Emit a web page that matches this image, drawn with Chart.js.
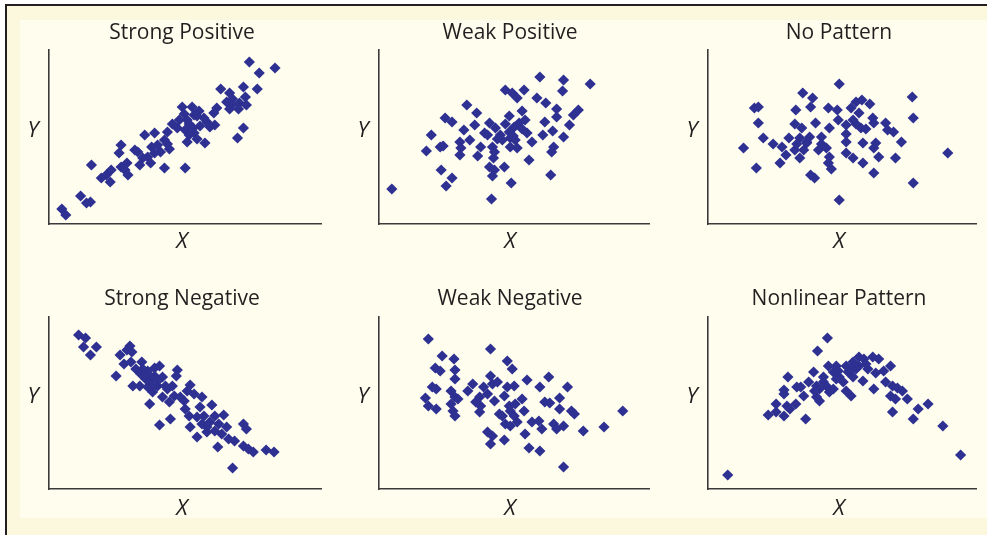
<!DOCTYPE html>
<html><head><meta charset="utf-8">
<script src="https://cdn.jsdelivr.net/npm/chart.js@4.4.0/dist/chart.umd.min.js"></script>
<style>
html,body{margin:0;padding:0;background:#fff;width:987px;height:535px;overflow:hidden;}
#frame{position:absolute;left:5px;top:4px;width:982px;height:531px;border-left:2px solid #231f20;border-top:2px solid #231f20;background:#fcf8dd;box-sizing:border-box;}
#inner{position:absolute;left:20px;top:20px;width:967px;height:498px;background:#fffdee;}
canvas{position:absolute;}
</style></head><body>
<div id="frame"></div><div id="inner"></div>
<canvas id="c1"></canvas><canvas id="c2"></canvas><canvas id="c3"></canvas>
<canvas id="c4"></canvas><canvas id="c5"></canvas><canvas id="c6"></canvas>
<script>
// ---- data (x,y in axis units) ----
const strongPosX = [203,229,213,174,197,211,183,199,180,185,193,200,192,183,170,167,135,145,152,137,147,140,132,157,160,168,163,197,191,130,138,142,147,150,140,158,120,107,97,117,110,122,113,107,100,103,90,87,95,92,117,138,73,71,79,73,77,80,63,58,62,53,43,32,42,38,13,17,125,142,153,104,186,150,120,146];
const strongPosY = [162,156,151,135,137,135,131,127,122,119,121,119,115,115,116,111,117,117,113,110,109,104,104,106,102,99,97,96,86,96,94,89,91,85,82,81,92,91,89,84,79,75,72,71,67,61,72,74,66,59,56,56,79,71,61,57,54,49,54,49,42,46,59,28,22,21,15,9,100,100,98,77,125,108,80,96];

const weakPosX = [163,187,214,186,128,147,135,140,160,169,89,99,145,180,202,197,180,67,74,132,148,168,193,112,118,137,142,97,86,107,110,123,132,150,176,53,125,133,138,155,166,187,82,92,62,65,48,83,103,115,117,133,140,177,175,82,100,116,152,112,127,117,115,63,74,134,174,68,13,114,128,120,136,145];
const weakPosY = [147,144,140,133,134,134,131,126,126,121,119,111,113,115,114,109,107,106,102,108,104,102,99,101,96,97,101,99,94,91,89,89,92,91,93,89,84,86,84,82,89,87,82,84,77,78,73,76,77,77,72,77,76,77,72,69,68,66,64,57,57,54,48,54,46,41,49,38,35,25,100,85,88,95];

const noPatX = [133,96,106,207,47,51,89,104,122,131,145,150,156,164,153,167,180,208,51,88,95,109,123,132,140,147,155,168,182,188,196,56,66,75,82,93,103,115,36,88,97,100,112,120,140,140,157,170,168,173,190,79,73,93,123,122,147,157,49,125,104,108,168,208,243,133,100,115,140,150,160,90];
const noPatY = [140,131,126,127,116,117,114,117,116,114,116,122,124,120,111,106,101,106,101,100,96,101,96,104,99,104,96,101,94,92,82,86,80,77,86,86,87,87,76,74,74,81,74,76,82,71,81,81,76,67,66,69,61,66,67,61,66,61,56,55,49,46,51,41,71,24,82,80,90,100,95,80];

const strongNegX = [30,37,35,48,42,82,79,84,72,76,83,94,68,88,93,100,107,112,130,129,85,92,98,103,107,115,100,105,110,118,125,115,122,127,133,137,143,147,155,102,165,138,142,153,157,123,112,143,155,163,168,177,172,180,197,200,150,160,168,175,182,188,171,197,202,207,220,228,186,100,110,120,140,150,160,95,105];
const strongNegY = [154,151,142,142,134,143,139,137,134,125,127,127,113,120,115,118,121,123,119,113,103,103,110,108,113,112,102,97,103,103,103,92,87,93,92,88,104,95,92,85,84,80,73,82,73,70,64,62,65,67,73,74,65,62,65,60,52,57,58,55,50,48,42,43,40,37,39,37,21,115,108,100,98,72,62,120,102];

const weakNegX = [50,113,64,76,130,57,62,77,135,77,113,150,172,163,191,54,58,95,90,106,115,120,130,137,73,77,47,50,58,73,80,98,102,110,117,127,145,147,168,173,183,183,195,198,247,75,77,102,103,122,132,137,128,133,140,155,162,165,177,180,187,207,228,110,115,113,127,148,152,163,187,133,138,125];
const weakNegY = [150,140,133,130,128,121,118,119,120,110,113,109,112,102,102,102,100,105,98,102,105,107,102,103,98,92,91,83,80,85,90,87,92,95,88,93,90,78,87,86,91,80,78,75,78,78,73,77,83,75,83,73,65,63,67,67,68,60,65,60,63,58,62,57,53,45,49,55,41,38,22,78,85,73];

const nonlinX = [121,111,153,158,167,173,185,178,170,81,107,122,130,140,147,153,162,157,127,117,133,147,137,102,110,120,127,140,145,168,180,187,192,197,90,94,77,77,97,110,113,123,185,190,202,89,69,80,83,69,61,77,99,187,208,213,223,238,256,20,117,132,150,142,113,130,145,160,108];
const nonlinY = [151,138,132,130,132,130,123,118,116,112,117,123,123,123,127,123,120,108,117,112,112,112,107,107,103,103,100,98,93,100,107,103,101,98,102,102,99,95,93,92,88,97,93,90,90,85,85,83,80,77,74,73,70,77,70,80,85,63,34,14,107,118,120,117,100,110,120,125,98];

const titles = ['Strong Positive','Weak Positive','No Pattern','Strong Negative','Weak Negative','Nonlinear Pattern'];
const xLabel = 'X';
const yLabel = 'Y';

// ---- layout / style ----
const MARK = '#2e3192';
const TEXT = '#231f20';
const AXIS = '#3a3a3a';
const panels = [
  {id:'c1', t:0, xs:strongPosX, ys:strongPosY, AL:49,  AR:325, AT:50,  AB:224, TC:182, TY:33,  XO:18},
  {id:'c2', t:1, xs:weakPosX,   ys:weakPosY,   AL:379, AR:653, AT:50,  AB:224, TC:510, TY:33,  XO:18},
  {id:'c3', t:2, xs:noPatX,     ys:noPatY,     AL:708, AR:980, AT:50,  AB:224, TC:839, TY:33,  XO:18},
  {id:'c4', t:3, xs:strongNegX, ys:strongNegY, AL:49,  AR:325, AT:317, AB:489, TC:182, TY:299, XO:20},
  {id:'c5', t:4, xs:weakNegX,   ys:weakNegY,   AL:379, AR:653, AT:317, AB:489, TC:510, TY:299, XO:20},
  {id:'c6', t:5, xs:nonlinX,    ys:nonlinY,    AL:708, AR:980, AT:317, AB:489, TC:839, TY:299, XO:20}
];

const axisLabels = {
  id: 'axisLabels',
  afterDraw(chart, args, o) {
    const {ctx, chartArea} = chart;
    const tb = chart.titleBlock;
    ctx.save();
    ctx.font = 'italic 22px "Open Sans"';
    ctx.fillStyle = o.color;
    ctx.textAlign = 'center';
    ctx.textBaseline = 'middle';
    ctx.fillText(o.xText, (tb.left + tb.right) / 2, chartArea.bottom + o.xOffset);
    ctx.fillText(o.yText, chartArea.left + o.yOffsetX, (chartArea.top + chartArea.bottom) / 2 + o.yOffsetY);
    ctx.restore();
  }
};

panels.forEach(p => {
  const L = p.AL - 35, W = p.AR - L + 2, T = p.AT - 40, H = p.AB + 32 - T;
  const P = 2 * p.TC - p.AR - L;
  const yw = p.AL - L - P;
  const lh = 21 * 1.2;
  const pt = p.TY - lh / 2 - T;
  const pb = p.AT - T - lh - pt;
  const cv = document.getElementById(p.id);
  cv.width = W; cv.height = H;
  cv.style.left = L + 'px'; cv.style.top = T + 'px';
  cv.style.width = W + 'px'; cv.style.height = H + 'px';
  const pts = p.xs.map((x, i) => ({x, y: p.ys[i]}));
  new Chart(cv, {
    type: 'scatter',
    data: {datasets: [{data: pts, pointStyle: 'rectRot', pointRadius: 5.6, pointHoverRadius: 5.6,
      backgroundColor: MARK, borderColor: MARK, borderWidth: 0}]},
    options: {
      responsive: false, animation: false, devicePixelRatio: 1, events: [],
      layout: {padding: {left: P, right: 2, top: 0, bottom: 0}},
      plugins: {
        legend: {display: false}, tooltip: {enabled: false},
        title: {display: true, text: titles[p.t], color: TEXT,
          font: {family: '"Open Sans"', size: 21, weight: 'normal', lineHeight: 1.2},
          padding: {top: pt, bottom: pb}},
        axisLabels: {xText: xLabel, yText: yLabel, color: TEXT, xOffset: p.XO, yOffsetX: -16, yOffsetY: -6}
      },
      scales: {
        x: {type: 'linear', min: 0, max: p.AR - p.AL, ticks: {display: false},
          grid: {display: false, drawTicks: false}, border: {display: true, color: AXIS, width: 1.6},
          afterFit: s => { s.height = 32; }},
        y: {type: 'linear', min: 0, max: p.AB - p.AT, ticks: {display: false},
          grid: {display: false, drawTicks: false}, border: {display: true, color: AXIS, width: 1.6},
          afterFit: s => { s.width = yw; }}
      }
    },
    plugins: [axisLabels]
  });
});
</script>
</body></html>
